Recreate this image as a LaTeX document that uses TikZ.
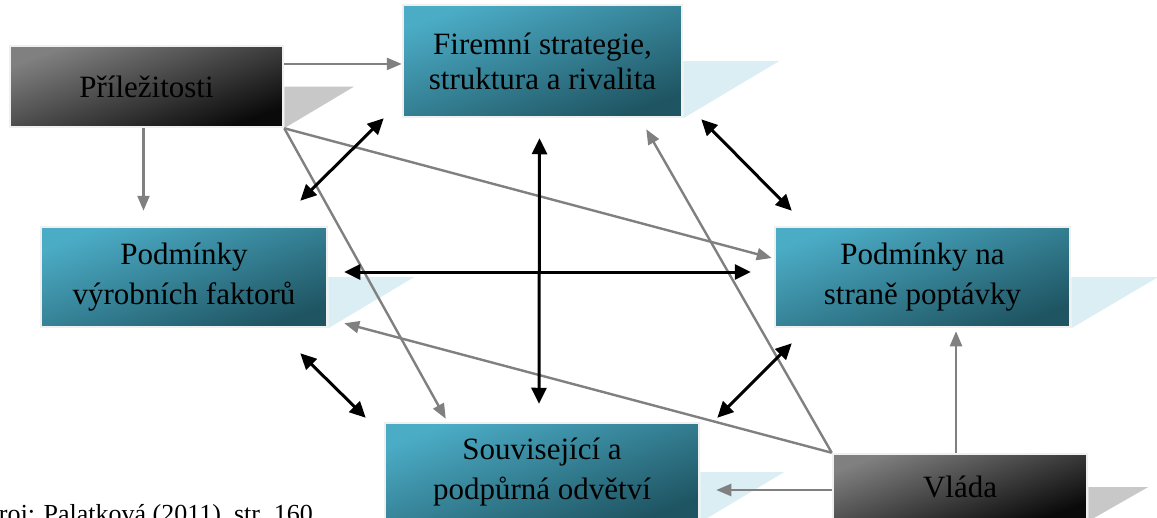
\documentclass[tikz,border=0pt]{standalone}
\usepackage{fontspec}
\setmainfont{Liberation Serif}
\usetikzlibrary{arrows.meta,calc,backgrounds}
\definecolor{bluelight}{HTML}{4BACC6}
\definecolor{bluedark}{HTML}{1F5563}
\definecolor{graylight}{HTML}{808080}
\definecolor{graydark}{HTML}{0A0A0A}
\definecolor{blueshadow}{HTML}{DAEEF3}
\definecolor{grayshadow}{HTML}{C8C8C8}
\definecolor{connector}{HTML}{808080}
\definecolor{boxborder}{HTML}{F0F0F0}
\begin{document}
\begin{tikzpicture}[x=1pt,y=-1pt,
  box/.style={draw=boxborder, line width=2.5pt, align=center, inner sep=0pt,
    font=\fontsize{31}{40}\selectfont, text=black},
  bluebox/.style={box, top color=bluelight, bottom color=bluedark, shading angle=20},
  graybox/.style={box, top color=graylight, bottom color=graydark, shading angle=20},
  graylink/.style={draw=connector, line width=2.4pt, -{Triangle[length=15pt,width=12pt]}},
  blacklink/.style={draw=black, line width=3pt,
    {Triangle[length=16pt,width=15pt]}-{Triangle[length=16pt,width=15pt]}},
  ]
\path[use as bounding box] (0,0) rectangle (1157,517);

\node[graybox, minimum width=273pt, minimum height=81pt] (P) at (146.5,86.5) {Příležitosti};
\node[bluebox, minimum width=279pt, minimum height=112pt, font=\fontsize{31}{35}\selectfont] (F) at (542.5,61) {Firemní strategie,\\struktura a rivalita};
\node[bluebox, minimum width=286pt, minimum height=100pt] (R) at (184,277) {Podmínky\\výrobních faktorů};
\node[bluebox, minimum width=295pt, minimum height=100pt] (D) at (922.5,277) {Podmínky na\\straně poptávky};
\node[bluebox, minimum width=314pt, minimum height=98pt] (S) at (542,472) {Související a\\podpůrná odvětví};
\node[graybox, minimum width=254pt, minimum height=66pt] (V) at (960,487) {Vláda};
\node[anchor=base east, inner sep=0pt, font=\fontsize{26}{30}\selectfont] (src) at (313,522) {Zdroj: Palatková (2011), str. 160};

\begin{scope}[on background layer]
  \fill[white] (0,0) rectangle (1157,517);
  \fill[grayshadow] (P.east) -- ++(70,0) -- (P.south east) -- cycle;
  \fill[blueshadow] (F.east) -- ++(96,0) -- (F.south east) -- cycle;
  \fill[blueshadow] (R.east) -- ++(86,0) -- (R.south east) -- cycle;
  \fill[blueshadow] (D.east) -- ++(87,0) -- (D.south east) -- cycle;
  \fill[blueshadow] (S.east) -- ++(84,0) -- (S.south east) -- cycle;
  \fill[grayshadow] (V.east) -- ++(60,0) -- (V.south east) -- cycle;
\end{scope}

% grey influences
\coordinate (g1s) at ($(P.north east)!0.23!(P.south east)$);
\draw[graylink] (g1s) -- (g1s -| F.west);
\draw[graylink] ($(P.south)+(-3,0)$) -- ($(P.south |- R.north)+(-3,-15)$);
\draw[graylink] (P.south east) -- ($(D.west)+(-2,-19)$);
\draw[graylink] (P.south east) -- ($(S.north west)+(62,-3)$);
\draw[graylink] (V.north west) -- ($(R.south east)+(16,-5)$);
\draw[graylink] (V.north west) -- ($(F.south east)+(-37,11)$);
\draw[graylink] ($(V.west)+(0,3)$) -- ($(V.west -| S.east)+(16,3)$);
\draw[graylink] ($(V.north)+(-4,0)$) -- ($(V.north |- D.south)+(-4,3)$);

% black mutual links
\draw[blacklink] ($(F.south west)+(-18,0)$) -- ($(R.north east)+(-28,-25)$);
\draw[blacklink] ($(F.south east)+(18,1)$) -- ($(D.north west)+(18,-15)$);
\draw[blacklink] ($(R.south east)+(-28,25)$) -- ($(S.north west)+(-18,-4)$);
\draw[blacklink] ($(D.south west)+(18,15)$) -- ($(S.north east)+(17,-4)$);
\draw[blacklink] ($(F.south)+(-3,20)$) -- ($(S.north)+(-3,-18)$);
\draw[blacklink] ($(R.east)+(16,-5)$) -- ($(D.west)+(-23,-5)$);
\end{tikzpicture}
\end{document}
